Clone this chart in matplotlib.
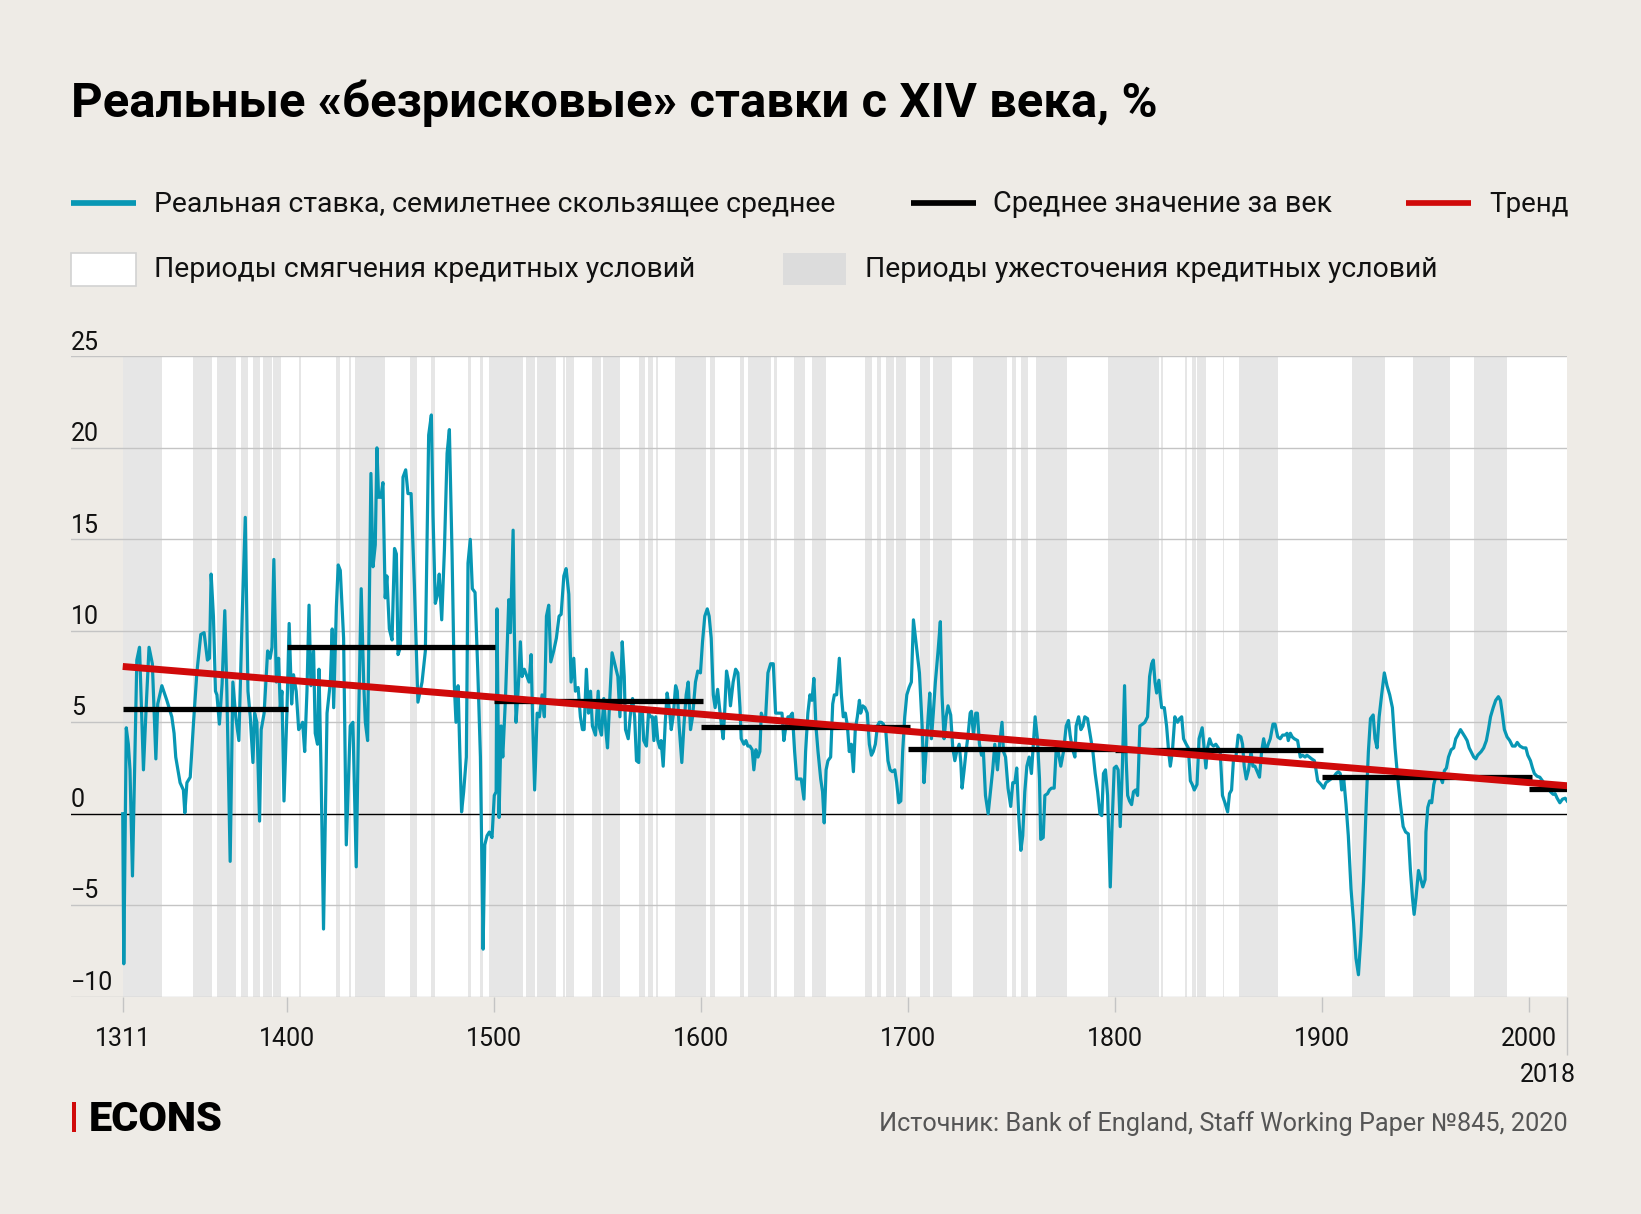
import matplotlib
matplotlib.use("Agg")
import matplotlib.pyplot as plt
from matplotlib.lines import Line2D
from matplotlib.patches import Rectangle
from matplotlib.transforms import blended_transform_factory, ScaledTranslation

W, H, DPI = 1641, 1214, 100
BG = "#EEEBE6"
BLUE = "#0897B4"
RED = "#D00A0A"
GRID = "#C4C4C4"
BAND = "#E6E6E6"
LEGBAND = "#DCDCDC"
plt.rcParams["font.family"] = ["Roboto", "DejaVu Sans"]

# ---------------- data ----------------
years = [1320.7, 1321.2, 1322.4, 1323.4, 1324.2, 1325.4, 1327.5, 1328.8, 1330.7, 1332.0, 1333.4, 1335.0, 1336.7, 1337.6, 1339.6,
         1342.0, 1344.4, 1345.5, 1346.3, 1348.4, 1350.0, 1350.7, 1351.7, 1353.3, 1354.9, 1356.5, 1358.4, 1360.0, 1361.6, 1362.6,
         1363.4, 1364.5, 1365.5, 1366.2, 1367.4, 1368.7, 1370.0, 1371.0, 1372.6, 1373.9, 1375.3, 1376.8, 1378.4, 1379.9, 1381.2,
         1382.3, 1383.6, 1384.4, 1385.5, 1386.8, 1387.6, 1389.0, 1390.7, 1391.9, 1392.8, 1393.7, 1394.9, 1396.0, 1396.8, 1397.6,
         1398.6, 1400.0, 1401.1, 1402.3, 1403.2, 1404.5, 1405.7, 1406.8, 1407.6, 1408.6, 1409.7, 1410.7, 1411.6, 1412.9, 1413.7,
         1414.8, 1415.5, 1416.5, 1417.7, 1419.4, 1421.0, 1421.9, 1422.6, 1423.9, 1424.8, 1425.8,
         1427.4, 1428.7, 1430.6, 1431.9, 1433.5, 1434.6, 1435.9, 1437.1, 1437.9, 1439.0, 1440.6, 1441.6, 1442.7, 1443.5, 1444.3,
         1445.4, 1446.4, 1447.5, 1448.3, 1449.5, 1450.8, 1452.0, 1452.9, 1453.7, 1454.8, 1456.1, 1457.4, 1458.5, 1460.0, 1461.6,
         1463.3, 1465.3, 1466.9, 1468.5, 1469.8, 1470.6, 1471.7, 1472.8, 1473.6, 1474.8, 1476.1, 1477.4, 1478.5, 1479.8, 1480.9,
         1481.7, 1482.7, 1483.5, 1484.4, 1485.4, 1486.7, 1487.5, 1488.6, 1489.6, 1490.9, 1492.2, 1493.5, 1494.8, 1495.6, 1496.7,
         1497.8, 1499.1, 1500.2, 1501.1, 1501.5, 1502.5, 1503.5, 1504.3, 1505.6, 1507.2, 1508.0, 1509.3, 1509.9, 1510.7, 1511.7,
         1512.8, 1513.6, 1514.7, 1516.0, 1517.0, 1518.0, 1518.8, 1519.7, 1520.9, 1522.0, 1523.3, 1524.4, 1525.4, 1526.5, 1527.5,
         1528.9, 1530.2, 1531.5, 1532.5, 1533.8, 1534.9, 1536.2, 1537.3, 1538.6, 1539.4, 1540.7, 1541.8, 1542.8, 1543.6, 1544.7,
         1545.7, 1546.7, 1547.6, 1549.1, 1550.4, 1551.0, 1552.0, 1553.1, 1554.3, 1554.9, 1556.0, 1557.1, 1558.4, 1559.9, 1560.9,
         1562.0, 1563.0, 1563.6, 1564.9, 1566.0, 1567.0, 1568.0, 1568.9, 1570.0,
         1570.5, 1571.6, 1572.4, 1573.7, 1574.7, 1575.7, 1576.6, 1577.3, 1578.2, 1579.2, 1580.2, 1580.8, 1581.8, 1582.8, 1583.7,
         1584.7, 1585.7, 1586.6, 1587.8, 1588.6, 1589.5, 1590.8, 1591.8, 1592.9, 1593.9, 1595.0, 1596.0, 1597.4, 1598.5, 1599.8,
         1600.8, 1601.9, 1603.1, 1604.0, 1605.0, 1606.0, 1606.9, 1608.1, 1609.0, 1610.0, 1610.8, 1611.6, 1612.4, 1613.4, 1614.3,
         1615.6, 1616.8, 1617.9, 1618.9, 1619.5, 1620.8, 1621.8, 1622.7, 1623.7, 1624.8, 1625.6, 1626.6, 1627.6, 1628.5, 1629.2,
         1630.1, 1631.3, 1632.4, 1633.7, 1635.0, 1636.1, 1637.2, 1638.2, 1639.2, 1640.1, 1641.1, 1642.1, 1643.0, 1644.2, 1645.3,
         1646.3, 1647.4, 1648.5, 1649.8, 1650.6, 1651.7, 1652.7, 1653.7, 1654.6, 1655.6, 1656.6, 1657.9, 1658.8, 1659.6, 1660.5,
         1661.4, 1662.7, 1663.7, 1664.5, 1665.6, 1666.9, 1667.9, 1668.8, 1669.8, 1670.8, 1671.7, 1672.7, 1673.7, 1674.6, 1675.6,
         1676.6, 1677.2, 1678.2, 1679.3, 1680.4, 1681.4, 1682.4, 1683.3, 1684.3, 1685.3, 1686.2, 1687.2, 1688.2, 1689.3, 1690.4,
         1691.4, 1692.5, 1693.7, 1694.6, 1695.6, 1696.6, 1697.5, 1698.5, 1699.5, 1700.6, 1701.7, 1702.7, 1703.7, 1704.6, 1705.6,
         1706.9, 1707.8, 1708.8, 1709.8, 1710.6, 1711.4, 1712.3, 1713.3, 1714.6, 1715.7, 1716.5, 1717.5, 1718.5, 1719.4, 1720.7,
         1721.7, 1722.7, 1723.6, 1724.8, 1725.6, 1726.2, 1727.2, 1728.1, 1729.1, 1730.1, 1730.7, 1731.7, 1732.8, 1733.6, 1734.6,
         1735.6, 1736.5, 1737.5, 1738.8, 1740.1, 1741.0, 1742.0, 1743.3, 1744.3, 1745.5, 1746.2, 1747.2, 1748.4, 1749.7, 1750.7,
         1751.7, 1752.6, 1753.6, 1754.6, 1755.5, 1756.5, 1757.5, 1758.6, 1759.7, 1760.5, 1761.5, 1762.6, 1763.6, 1764.2, 1765.4,
         1766.2, 1767.5, 1768.4, 1769.4, 1770.7, 1771.7, 1772.6, 1773.9, 1775.2, 1776.5, 1777.6, 1778.4, 1779.4, 1780.7, 1781.3,
         1782.5, 1783.6, 1784.6, 1785.5, 1786.8, 1788.1, 1789.4, 1790.5, 1791.7, 1792.8, 1793.7, 1794.5, 1795.5, 1796.5, 1797.8,
         1798.7, 1799.7, 1800.7, 1801.6, 1802.6, 1803.6, 1804.7, 1805.5, 1806.2, 1807.1, 1808.1, 1809.0, 1810.0, 1811.0, 1812.1,
         1813.4, 1814.5, 1815.8, 1816.8, 1817.8, 1818.6, 1819.4, 1820.2, 1821.3, 1821.9, 1822.6, 1823.9, 1825.0, 1826.0, 1826.8,
         1827.8, 1829.0, 1830.3, 1831.3, 1832.3, 1833.2, 1834.5, 1835.5, 1836.5, 1837.4, 1838.4, 1839.7, 1840.7,
         1842.2, 1842.9, 1844.0, 1844.8, 1845.8, 1846.7, 1847.7, 1848.8, 1850.0, 1850.9, 1852.0, 1853.2, 1854.5, 1855.4, 1856.4,
         1857.4, 1858.5, 1859.6, 1860.9, 1861.7, 1862.5, 1863.5, 1864.6, 1865.8, 1866.7, 1867.7, 1868.8, 1869.9, 1870.9, 1871.9,
         1873.0, 1874.1, 1875.1, 1876.4, 1877.4, 1878.7, 1879.9, 1881.1, 1882.2, 1883.2, 1883.8, 1884.8, 1885.7, 1886.7, 1888.3,
         1889.6, 1890.7, 1891.9, 1892.8, 1894.0, 1895.1, 1896.4, 1897.2, 1898.0, 1899.6, 1900.9, 1902.0, 1903.2, 1904.4, 1905.7,
         1906.9, 1908.0, 1908.9, 1909.6, 1910.6, 1911.7, 1912.8, 1914.1, 1915.4, 1916.5, 1917.7, 1918.9, 1920.2, 1921.5, 1922.5,
         1923.5, 1924.8, 1925.7, 1926.7, 1927.7, 1928.9, 1930.2, 1931.5, 1932.8, 1934.1, 1935.4, 1936.7, 1938.0, 1939.3, 1940.5,
         1941.8, 1942.8, 1943.8, 1944.6, 1945.5, 1946.7, 1947.6, 1948.8, 1949.9, 1950.3, 1951.2,
         1952.1, 1953.1, 1954.1, 1955.0, 1956.0, 1957.3, 1958.3, 1959.2, 1960.2, 1961.2, 1962.5, 1963.7, 1964.7, 1965.7, 1967.0,
         1968.1, 1969.2, 1970.2, 1971.2, 1972.1, 1973.4, 1974.4, 1975.3, 1977.0, 1978.2, 1979.5, 1980.5, 1981.5, 1982.8, 1984.0,
         1985.3, 1986.3, 1987.3, 1988.2, 1989.5, 1990.8, 1992.1, 1993.4, 1994.4, 1995.7, 1997.3, 1998.6, 1999.5, 2000.8, 2001.8,
         2002.7, 2004.0, 2005.3, 2006.6, 2007.9, 2009.2, 2010.5, 2011.8, 2012.7, 2013.7, 2015.0, 2016.3, 2017.6, 2018.5]

rates = [0.0, -8.2, 4.7, 3.8, 2.4, -3.4, 8.4, 9.1, 2.4, 5.8, 9.1, 8.2, 3.0, 6.0, 7.0,
         6.2, 5.3, 4.4, 3.1, 1.7, 1.3, 0.05, 1.7, 2.0, 5.0, 7.7, 9.8, 9.9, 8.4, 8.5,
         13.1, 10.8, 6.7, 6.5, 4.9, 7.1, 11.1, 6.7, -2.6, 7.2, 5.3, 4.0, 10.8, 16.2, 6.7,
         5.3, 2.8, 5.5, 5.0, -0.4, 4.6, 5.5, 8.9, 8.5, 9.1, 13.9, 7.2, 8.5, 5.8, 6.7,
         0.7, 5.5, 10.4, 6.0, 7.6, 6.7, 4.6, 4.8, 5.0, 3.4, 6.7, 11.4, 7.0, 8.9, 4.4,
         3.8, 7.9, 2.4, -6.3, 5.5, 7.2, 10.1, 5.8, 11.3, 13.6, 13.3,
         9.6, -1.7, 4.8, 5.0, -2.9, 4.8, 12.3, 7.2, 5.0, 4.0, 18.6, 13.5, 14.7, 20.0, 17.3,
         17.3, 18.1, 11.8, 13.0, 10.1, 9.5, 14.5, 14.2, 8.7, 9.1, 18.4, 18.8, 17.5, 17.5, 12.5,
         6.1, 7.2, 8.9, 20.7, 21.8, 16.3, 11.5, 12.0, 13.1, 10.6, 14.4, 19.7, 21.0, 14.2, 7.0,
         5.0, 7.0, 3.6, 0.1, 1.2, 3.1, 13.7, 15.0, 12.3, 12.1, 7.9, 3.1, -7.4, -1.7, -1.2,
         -1.0, -1.3, 1.0, 1.2, 11.2, -0.2, 4.8, 3.1, 6.3, 11.7, 9.9, 15.5, 9.9, 5.0, 6.7,
         9.4, 7.5, 7.9, 7.5, 7.2, 8.7, 4.8, 1.3, 5.5, 5.3, 6.5, 5.3, 10.8, 11.4, 8.3,
         8.9, 9.6, 10.8, 10.9, 13.0, 13.4, 12.0, 7.2, 8.5, 6.7, 6.9, 5.3, 4.6, 4.6, 7.9,
         5.5, 6.7, 4.8, 4.3, 6.7, 4.7, 4.3, 6.3, 4.3, 3.6, 6.3, 8.8, 8.2, 7.5, 5.3,
         9.4, 7.5, 4.6, 4.1, 5.5, 6.3, 5.3, 2.9, 2.8,
         5.5, 5.8, 4.0, 3.7, 5.5, 5.3, 5.3, 4.0, 5.3, 4.0, 3.6, 4.0, 2.6, 5.0, 6.6,
         5.8, 4.6, 5.3, 7.0, 6.7, 4.8, 2.8, 4.8, 6.5, 7.2, 4.6, 5.3, 7.2, 7.8, 7.7,
         9.4, 10.8, 11.2, 10.8, 9.6, 6.5, 5.8, 6.8, 5.8, 4.8, 4.1, 5.8, 7.8, 7.2, 5.9,
         7.2, 7.9, 7.7, 5.8, 4.1, 3.8, 4.0, 3.7, 3.7, 3.5, 2.4, 3.5, 3.1, 3.4, 5.5,
         5.2, 5.3, 7.7, 8.2, 8.2, 5.5, 5.5, 5.5, 5.5, 4.0, 4.8, 5.3, 5.3, 5.5, 3.4,
         1.9, 1.9, 1.9, 0.8, 3.4, 5.5, 6.5, 6.2, 7.4, 4.8, 3.4, 1.9, 1.2, -0.5, 2.4,
         2.9, 3.1, 6.0, 6.5, 6.5, 8.5, 6.5, 5.3, 5.5, 4.8, 3.4, 3.8, 2.3, 4.6, 5.3,
         6.2, 5.5, 5.9, 5.8, 5.5, 3.8, 3.2, 3.4, 3.8, 4.8, 5.0, 5.0, 4.9, 4.6, 2.9,
         2.4, 2.3, 2.4, 1.7, 0.6, 0.7, 3.4, 5.3, 6.5, 6.9, 7.2, 10.6, 9.6, 8.7, 7.7,
         4.8, 1.7, 3.4, 5.3, 6.6, 4.1, 5.5, 7.2, 8.9, 10.5, 6.5, 4.1, 5.3, 5.9, 5.4,
         3.6, 2.9, 3.4, 3.8, 2.8, 1.4, 2.4, 3.4, 4.3, 5.5, 5.6, 4.3, 5.5, 5.5, 3.8,
         3.2, 3.4, 1.0, 0.0, 1.4, 2.4, 3.8, 2.4, 3.8, 5.0, 3.4, 3.1, 1.4, 0.4, 1.7,
         1.7, 2.5, -0.2, -2.0, -1.2, 1.2, 2.6, 3.1, 2.2, 3.6, 5.3, 4.1, 1.9, -1.4, -1.3,
         1.0, 1.1, 1.3, 1.4, 1.4, 3.6, 3.4, 2.6, 3.4, 4.8, 5.1, 4.3, 3.6, 3.1, 4.8,
         5.3, 4.6, 4.8, 5.3, 5.2, 4.3, 3.4, 2.2, 1.2, 0.0, -0.1, 2.2, 2.4, 1.0, -4.0,
         -0.5, 2.5, 2.6, 2.4, -0.7, 2.4, 7.0, 2.9, 1.0, 0.7, 0.5, 1.2, 1.3, 1.0, 4.8,
         4.9, 5.0, 5.3, 7.5, 8.2, 8.4, 7.2, 6.6, 7.3, 6.5, 5.8, 5.8, 4.8, 3.4, 2.6,
         3.4, 5.3, 5.0, 5.2, 5.3, 4.1, 3.8, 3.6, 1.8, 1.6, 1.3, 1.6, 4.1,
         4.7, 3.9, 2.5, 3.6, 4.1, 3.8, 3.7, 3.8, 3.6, 3.4, 1.0, 0.6, 0.1, 1.1, 1.3,
         3.1, 3.1, 4.3, 4.2, 3.8, 2.6, 1.9, 2.4, 3.4, 2.6, 2.6, 2.3, 2.0, 3.4, 4.1,
         3.4, 3.8, 4.1, 4.9, 4.9, 4.2, 4.1, 4.3, 4.3, 4.4, 4.0, 4.4, 4.2, 4.1, 4.0,
         3.1, 3.2, 3.1, 3.2, 3.1, 3.0, 2.9, 2.4, 1.8, 1.6, 1.4, 1.7, 1.8, 1.9, 2.0,
         2.2, 2.3, 2.2, 1.3, 1.9, 0.5, -1.2, -4.1, -6.0, -7.9, -8.8, -6.7, -3.6, 0.7, 3.4,
         5.2, 5.4, 4.1, 3.6, 5.3, 6.5, 7.7, 7.0, 6.5, 5.8, 3.6, 1.9, 0.5, -0.7, -1.0,
         -1.1, -3.1, -4.6, -5.5, -4.6, -3.1, -3.5, -4.0, -3.6, -1.0, 0.35,
         0.7, 0.6, 1.6, 2.0, 2.1, 2.0, 1.7, 2.35, 2.5, 3.1, 3.5, 3.6, 4.1, 4.3, 4.6,
         4.4, 4.2, 4.0, 3.6, 3.4, 3.1, 3.0, 3.2, 3.4, 3.6, 4.0, 4.6, 5.3, 5.8, 6.2,
         6.4, 6.2, 5.4, 4.6, 4.2, 4.0, 3.7, 3.7, 3.9, 3.7, 3.6, 3.6, 3.2, 2.9, 2.5,
         2.2, 2.05, 2.0, 1.8, 1.6, 1.4, 1.2, 1.06, 1.1, 0.85, 0.6, 0.8, 0.85, 0.7]

century_start = [1320.7, 1400, 1500, 1600, 1700, 1800, 1900, 2000]
century_end = [1400.5, 1500.5, 1601.0, 1701.0, 1800.0, 1900.5, 2001.5, 2018.6]
century_mean = [5.7, 9.13, 6.18, 4.74, 3.55, 3.47, 2.0, 1.36]

trend_years = [1320.7, 2018.6]
trend_values = [8.05, 1.53]

tight_start = [1320.7, 1354.7, 1366.4, 1377.9, 1383.7, 1388.7, 1393.4, 1405.9, 1423.8, 1429.8, 1432.7, 1459.6, 1469.8,
               1487.7, 1493.5, 1497.5, 1515.6, 1520.9, 1533.2, 1534.9, 1547.6, 1552.6, 1558.7, 1569.9, 1574.3, 1578.5,
               1587.7, 1604.6, 1618.8, 1622.9, 1635.5, 1645.1, 1653.8, 1679.1, 1684.9, 1689.6, 1694.1, 1705.9, 1712.0,
               1731.5, 1750.2, 1754.9, 1761.9, 1796.6, 1822.1, 1834.0, 1837.5, 1839.8, 1852.1, 1860.0, 1914.7, 1944.1,
               1973.7]
tight_end = [1339.6, 1363.9, 1375.6, 1381.4, 1387.1, 1392.7, 1397.1, 1406.6, 1425.8, 1430.9, 1447.5, 1462.7, 1471.7,
             1489.0, 1494.6, 1514.1, 1519.7, 1530.1, 1534.2, 1538.9, 1551.8, 1558.4, 1561.1, 1573.1, 1576.8, 1579.4,
             1602.7, 1606.9, 1620.9, 1634.0, 1636.9, 1650.1, 1660.3, 1682.8, 1687.0, 1693.3, 1698.9, 1710.5, 1721.2,
             1747.8, 1752.1, 1758.1, 1777.1, 1821.4, 1823.1, 1834.8, 1839.1, 1844.0, 1852.6, 1878.8, 1930.4, 1961.9,
             1989.4]

x_tick_pos = [1320.7, 1400, 1500, 1600, 1700, 1800, 1900, 2000]
x_tick_labels = ["1311", "1400", "1500", "1600", "1700", "1800", "1900", "2000"]
end_tick_pos = 2018.6
end_tick_label = "2018"
y_ticks = [-10, -5, 0, 5, 10, 15, 20, 25]

title = "Реальные «безрисковые» ставки с XIV века, %"
leg_labels = ["Реальная ставка, семилетнее скользящее среднее", "Среднее значение за век", "Тренд",
              "Периоды смягчения кредитных условий", "Периоды ужесточения кредитных условий"]
source = "Источник: Bank of England, Staff Working Paper №845, 2020"
brand = "ECONS"

# ---------------- figure ----------------
fig = plt.figure(figsize=(W / DPI, H / DPI), dpi=DPI, facecolor=BG)


def fx(px):
    return px / W


def fy(py):
    return 1 - py / H


ax = fig.add_axes([fx(71), fy(996.7), (1567.3 - 71) / W, (996.7 - 356.4) / H])
ax.set_facecolor("none")
ax.set_xlim(1295.7, 2018.6)
ax.set_ylim(-10, 25)
for s in ax.spines.values():
    s.set_visible(False)

ax.axvspan(years[0], 2018.6, color="white", zorder=0, lw=0)
for a, b in zip(tight_start, tight_end):
    ax.axvspan(a, b, color=BAND, zorder=0.5, lw=0)
for v in y_ticks:
    if v == 0:
        ax.axhline(0, color="black", lw=1.0, zorder=2)
    else:
        ax.axhline(v, color=GRID, lw=1.0, zorder=1)

ax.plot(years, rates, color=BLUE, lw=2.3, zorder=3, solid_joinstyle="round")
ax.hlines(century_mean, century_start, century_end, color="black", lw=3.8, zorder=4)
ax.plot(trend_years, trend_values, color=RED, lw=5.0, zorder=5, solid_capstyle="butt")

ax.set_yticks([])
ax.set_xticks(x_tick_pos)
ax.set_xticklabels([])
ax.tick_params(axis="x", which="major", length=10.8, width=1.0, color=GRID, labelbottom=False)
ax.set_xticks([end_tick_pos], minor=True)
ax.tick_params(axis="x", which="minor", length=42, width=1.0, color=GRID, labelbottom=False)

TICK_FS = 18
tx = blended_transform_factory(ax.transData, fig.transFigure)
for p, l in zip(x_tick_pos, x_tick_labels):
    ax.text(p, fy(1045.6), l, transform=tx, ha="center", va="baseline", fontsize=TICK_FS, color="#111111")
fig.text(fx(1548), fy(1081.7), end_tick_label, ha="center", va="baseline", fontsize=TICK_FS, color="#111111")

ty = blended_transform_factory(fig.transFigure, ax.transData) + ScaledTranslation(0, 6.8 / DPI, fig.dpi_scale_trans)
for v in y_ticks:
    lab = str(v).replace("-", "\u2212")
    ax.text(fx(71), v, lab, transform=ty, ha="left", va="baseline", fontsize=TICK_FS, color="#111111")

# ---------------- texts ----------------
renderer = fig.canvas.get_renderer()


def fit(t, target):
    bb = t.get_window_extent(renderer=renderer)
    t.set_fontsize(t.get_fontsize() * target / bb.width)


t_title = fig.text(fx(71), fy(116.7), title, ha="left", va="baseline", fontsize=34, fontweight="bold", color="black")
fit(t_title, 1088)

# legend row 1
fig.add_artist(Line2D([fx(71.2), fx(136.1)], [fy(202.8), fy(202.8)], color=BLUE, lw=4.1, solid_capstyle="butt"))
fig.add_artist(Line2D([fx(911), fx(976)], [fy(202.8), fy(202.8)], color="black", lw=4.1, solid_capstyle="butt"))
fig.add_artist(Line2D([fx(1406.3), fx(1471.2)], [fy(202.8), fy(202.8)], color=RED, lw=4.1, solid_capstyle="butt"))
leg_pos = [(153.9, 212.3, 681), (992.7, 212.3, 339), (1489, 212.3, 79.5), (153.9, 277.3, 540), (864.5, 277.3, 573.5)]
for lab, (x, y, w) in zip(leg_labels, leg_pos):
    t = fig.text(fx(x), fy(y), lab, ha="left", va="baseline", fontsize=19, color="#111111")
    fit(t, w)

# legend row 2 boxes
fig.add_artist(Rectangle((fx(71.2), fy(285.5)), 65 / W, 33 / H, transform=fig.transFigure,
                         facecolor="white", edgecolor="#D2D2D2", lw=1.2))
fig.add_artist(Rectangle((fx(783.2), fy(285.2)), 63 / W, 32.5 / H, transform=fig.transFigure,
                         facecolor=LEGBAND, edgecolor="none"))

# footer
fig.add_artist(Rectangle((fx(71.5), fy(1132)), 4 / W, 30 / H, transform=fig.transFigure,
                         facecolor=RED, edgecolor="none"))
t_brand = fig.text(fx(89), fy(1131), brand, ha="left", va="baseline", fontsize=28, fontweight="heavy", color="black")
fit(t_brand, 134)
t_src = fig.text(fx(1567.8), fy(1130.5), source, ha="right", va="baseline", fontsize=18, color="#555555")
fit(t_src, 688.7)

fig.savefig("out.png", dpi=DPI, facecolor=BG)
